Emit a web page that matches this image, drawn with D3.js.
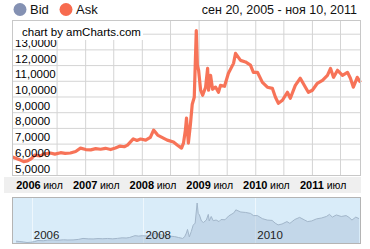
<!DOCTYPE html>
<html>
<head>
<meta charset="utf-8">
<script src="https://cdn.jsdelivr.net/npm/d3@7"></script>
<style>
  body { margin: 0; background: #fff; }
  svg { font-family: "Liberation Sans", Arial, sans-serif; display: block; }
</style>
</head>
<body>
<div id="wrapper"></div>
<script>
// series data (Ask)
const dates = [
  "2005-09-20","2005-10-15","2005-11-10","2005-12-01","2005-12-25","2006-01-20","2006-02-10",
  "2006-03-17","2006-04-15","2006-05-22","2006-06-20","2006-07-27","2006-08-25","2006-09-28",
  "2006-11-01","2006-12-02","2007-01-05","2007-02-06","2007-03-10","2007-04-10","2007-05-12",
  "2007-06-14","2007-07-15","2007-08-15","2007-09-10","2007-10-01","2007-11-07","2007-12-01",
  "2007-12-24","2008-01-26","2008-02-25","2008-03-17","2008-04-12","2008-05-19","2008-06-13",
  "2008-07-23","2008-08-18","2008-09-13","2008-09-26","2008-10-08","2008-10-15","2008-10-27",
  "2008-11-09","2008-11-21","2008-12-04","2008-12-17","2008-12-24","2009-01-01","2009-01-14",
  "2009-01-27","2009-02-15","2009-02-28","2009-03-06","2009-03-19","2009-04-01","2009-04-20",
  "2009-05-09","2009-05-22","2009-06-17","2009-07-12","2009-08-14","2009-08-27","2009-09-28",
  "2009-10-30","2009-12-01","2009-12-20","2010-01-15","2010-02-16","2010-03-20","2010-04-21",
  "2010-05-11","2010-05-30","2010-06-25","2010-07-27","2010-08-15","2010-09-16","2010-10-18",
  "2010-11-20","2010-12-09","2011-01-04","2011-02-05","2011-03-10","2011-04-11","2011-05-01",
  "2011-05-20","2011-06-15","2011-07-17","2011-08-18","2011-09-06","2011-09-25","2011-10-20",
  "2011-11-10"
];
const askValues = [
  6.14, 6.05, 5.95, 5.85, 5.90, 6.05, 6.27,
  6.22, 6.35, 6.40, 6.33, 6.42, 6.38, 6.40,
  6.50, 6.71, 6.62, 6.60, 6.68, 6.64, 6.70,
  6.62, 6.72, 6.84, 6.80, 6.90, 7.30, 7.20,
  7.29, 7.22, 7.40, 7.86, 7.54, 7.35, 7.22,
  7.10, 6.90, 6.71, 7.05, 7.86, 8.62, 7.03,
  8.20, 9.51, 9.95, 14.20, 12.00, 11.67, 10.40,
  10.08, 10.59, 11.79, 10.40, 11.35, 10.46, 10.60,
  10.27, 10.71, 10.65, 11.48, 12.11, 12.75, 12.30,
  12.20, 12.00, 11.54, 11.54, 10.90, 10.59, 10.52,
  9.95, 9.57, 9.76, 10.27, 9.89, 10.71, 11.16,
  10.59, 10.27, 10.40, 10.84, 11.03, 11.35, 11.79,
  11.22, 11.67, 11.35, 11.54, 11.16, 10.59, 11.22,
  10.90
];
const yTicks = [5, 6, 7, 8, 9, 10, 11, 12, 13, 14];
const legendItems = ["Bid", "Ask"];
const legendColors = ["#8491b3", "#f76b4f"];
const periodText = "сен 20, 2005 - ноя 10, 2011";
const monthLabel = "июл";
const navYears = ["2006-01-01", "2008-01-01", "2010-01-01"];

const width = 370;
const height = 249;
const plot = { left: 12.5, right: 360.5, top: 20.5, bottom: 175.5 };
const nav = { left: 12.5, right: 360.5, top: 197.5, bottom: 243.5 };

const parseDate = d3.timeParse("%Y-%m-%d");
const dataset = dates.map((d, i) => ({ date: parseDate(d), ask: askValues[i] }));

const xAccessor = (d) => d.date;
const yAccessor = (d) => d.ask;
const lineColor = "#f76b4f";

const svg = d3.select("#wrapper")
  .append("svg")
  .attr("width", width)
  .attr("height", height);

// legend
const legend = svg.append("g");
const legendX = [20, 66];
legendItems.forEach((name, i) => {
  legend.append("circle")
    .attr("cx", legendX[i]).attr("cy", 9.5).attr("r", 6.5)
    .attr("fill", legendColors[i]);
  legend.append("text")
    .attr("x", legendX[i] + 10).attr("y", 14)
    .attr("font-size", 13).attr("fill", "#111")
    .text(name);
});
svg.append("text")
  .attr("x", 357).attr("y", 14)
  .attr("text-anchor", "end")
  .attr("font-size", 12.5).attr("fill", "#111")
  .text(periodText);

// scales
const xScale = d3.scaleTime()
  .domain(d3.extent(dataset, xAccessor))
  .range([plot.left, plot.right]);

const yScale = d3.scaleLinear()
  .domain([5, 14.84])
  .range([plot.bottom - 0.5, plot.top]);

// plot background + grid
svg.append("rect")
  .attr("x", plot.left).attr("y", plot.top)
  .attr("width", plot.right - plot.left).attr("height", plot.bottom - plot.top)
  .attr("fill", "#fff");

const halfYears = d3.timeMonth.every(6).range(xScale.domain()[0], xScale.domain()[1]);

const xGrid = d3.axisBottom(xScale)
  .tickValues(halfYears.slice(1)) // the first one is hidden under the value labels
  .tickSize(-(plot.bottom - plot.top))
  .tickFormat("");
svg.append("g")
  .attr("transform", `translate(0,${plot.bottom})`)
  .call(xGrid)
  .call(g => g.select(".domain").remove())
  .call(g => g.selectAll("line").attr("stroke", "#d4d4d4"));

const yGrid = d3.axisLeft(yScale)
  .tickValues(yTicks)
  .tickSize(-(plot.right - plot.left))
  .tickFormat("");
svg.append("g")
  .attr("transform", `translate(${plot.left},0)`)
  .call(yGrid)
  .call(g => g.select(".domain").remove())
  .call(g => g.selectAll("line").attr("stroke", "#d4d4d4"));

// line
const lineGenerator = d3.line()
  .x((d) => xScale(xAccessor(d)))
  .y((d) => yScale(yAccessor(d)));

svg.append("path")
  .datum(dataset)
  .attr("d", lineGenerator)
  .attr("fill", "none")
  .attr("stroke", lineColor)
  .attr("stroke-width", 3.2)
  .attr("stroke-linejoin", "round")
  .attr("opacity", 0.95);

// value labels (inside, above gridlines)
const yLabels = svg.append("g")
  .attr("transform", `translate(${plot.left + 2.5},0)`)
  .call(d3.axisRight(yScale)
    .tickValues(yTicks.filter(t => t < 14))
    .tickSize(0)
    .tickFormat(d => d3.format(".4f")(d).replace(".", ",")));
yLabels.select(".domain").remove();
yLabels.selectAll("text")
  .attr("x", 0)
  .attr("dy", "-3")
  .attr("font-size", 11.5)
  .attr("font-family", "Liberation Sans, Arial, sans-serif")
  .attr("fill", "#000");

// credit label
svg.append("rect")
  .attr("x", plot.left + 0.5).attr("y", plot.top + 0.5)
  .attr("width", 130).attr("height", 19)
  .attr("fill", "#fff");
svg.append("text")
  .attr("x", 22).attr("y", 36)
  .attr("font-size", 11.5).attr("fill", "#000")
  .text("chart by amCharts.com");

// plot border
svg.append("rect")
  .attr("x", plot.left).attr("y", plot.top)
  .attr("width", plot.right - plot.left).attr("height", plot.bottom - plot.top)
  .attr("fill", "none").attr("stroke", "#c8c8c8");

// date band
svg.append("rect")
  .attr("x", 4).attr("y", 177)
  .attr("width", 357).attr("height", 16)
  .attr("fill", "#efefef");

const dateAxis = svg.append("g")
  .attr("transform", "translate(0,189)");
dateAxis.selectAll("text")
  .data(halfYears)
  .enter()
  .append("text")
  .attr("x", (d) => xScale(d) - (d.getMonth() === 0 ? 0 : 3.5))
  .attr("text-anchor", "middle")
  .attr("font-size", (d) => d.getMonth() === 0 ? 11 : 10.5)
  .attr("font-weight", (d) => d.getMonth() === 0 ? "bold" : "normal")
  .attr("fill", "#000")
  .text((d) => d.getMonth() === 0 ? d.getFullYear() : monthLabel);

// navigator
svg.append("rect")
  .attr("x", nav.left).attr("y", nav.top)
  .attr("width", nav.right - nav.left).attr("height", nav.bottom - nav.top)
  .attr("fill", "#d9ecf9");

const navX = d3.scaleTime()
  .domain(d3.extent(dataset, xAccessor))
  .range([16, 359]);
const navY = d3.scaleLinear()
  .domain(d3.extent(dataset, yAccessor))
  .range([242.5, 203]);

const navGrid = navYears.map(parseDate);
svg.append("g")
  .selectAll("line")
  .data(navGrid)
  .enter()
  .append("line")
  .attr("x1", (d) => Math.round(navX(d)) + 0.5)
  .attr("x2", (d) => Math.round(navX(d)) + 0.5)
  .attr("y1", nav.top).attr("y2", nav.bottom)
  .attr("stroke", "#eef7fd");

const navArea = d3.area()
  .x((d) => navX(xAccessor(d)))
  .y0(nav.bottom)
  .y1((d) => navY(yAccessor(d)));

svg.append("path")
  .datum(dataset)
  .attr("d", navArea)
  .attr("fill", "#a9bfd4")
  .attr("fill-opacity", 0.45);

svg.append("path")
  .datum(dataset)
  .attr("d", d3.line().x((d) => navX(xAccessor(d))).y((d) => navY(yAccessor(d))))
  .attr("fill", "none")
  .attr("stroke", "#a2b6ca")
  .attr("stroke-width", 1);

svg.append("g")
  .selectAll("text")
  .data(navGrid)
  .enter()
  .append("text")
  .attr("x", (d) => navX(d) + 2)
  .attr("y", 239)
  .attr("font-size", 11.5)
  .attr("fill", "#222")
  .text((d) => d.getFullYear());

svg.append("rect")
  .attr("x", nav.left).attr("y", nav.top)
  .attr("width", nav.right - nav.left).attr("height", nav.bottom - nav.top)
  .attr("fill", "none").attr("stroke", "#b4b4b4");
</script>
</body>
</html>
